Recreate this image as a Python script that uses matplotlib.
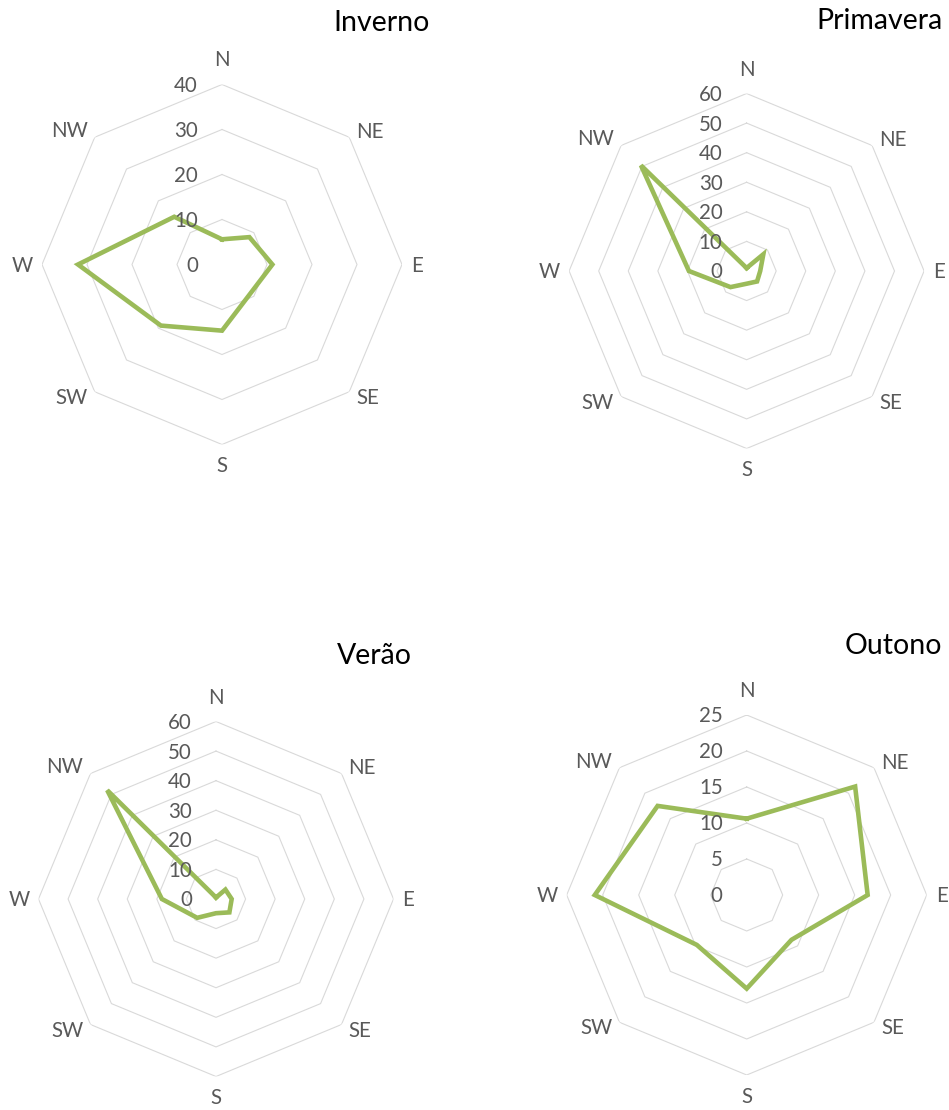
import numpy as np
import matplotlib.pyplot as plt
from matplotlib.transforms import offset_copy

plt.rcParams['font.family'] = ['Lato', 'DejaVu Sans']

directions = ["N", "NE", "E", "SE", "S", "SW", "W", "NW"]

# frequency per wind direction, one list per season
inverno = [5.6, 8.6, 11.2, 9.0, 14.7, 19.2, 32.0, 15.0]
primavera = [1.0, 8.0, 4.6, 5.0, 4.3, 7.7, 19.5, 50.5]
verao = [0.5, 4.5, 5.3, 6.4, 4.8, 9.0, 18.3, 52.0]
outono = [10.6, 21.3, 16.8, 8.8, 13.0, 9.8, 21.1, 17.5]

W, H = 949, 1110
fig = plt.figure(figsize=(W / 100, H / 100), dpi=100)

# title, values, axis max, step, centre (px), radius (px), title right edge/centre (px)
panels = [
    ("Inverno", inverno, 40, 10, (222, 264.5), 180, (430, 23)),
    ("Primavera", primavera, 60, 10, (746.6, 271), 177.5, (943, 21)),
    ("Verão", verao, 60, 10, (216, 899), 177.5, (412, 656)),
    ("Outono", outono, 25, 5, (746.7, 895), 180, (942, 646)),
]

line_color = '#9BBB59'
grid_color = '#D9D9D9'
text_color = '#595959'
label_size = 14.8

# pixel offsets and alignment for the direction labels
label_pos = {
    "N": (0, 18, 'center'),
    "NE": (7, -1, 'left'),
    "E": (9, -7.5, 'left'),
    "SE": (7, -12, 'left'),
    "S": (0, -28, 'center'),
    "SW": (-7, -12, 'right'),
    "W": (-9, -7.5, 'right'),
    "NW": (-7, 0, 'right'),
}

theta = np.deg2rad(np.arange(0, 360, 45))
theta_closed = np.append(theta, theta[0])

for title, values, rmax, step, (cx, cy), rad, (tx, ty) in panels:
    ax = fig.add_axes([(cx - rad) / W, 1 - (cy + rad) / H, 2 * rad / W, 2 * rad / H],
                      projection='polar')
    ax.set_theta_zero_location('N')
    ax.set_theta_direction(-1)
    ax.set_ylim(0, rmax)
    ax.grid(False)
    ax.set_xticks([])
    ax.set_yticks([])
    ax.spines['polar'].set_visible(False)
    ax.patch.set_visible(False)

    rings = np.arange(step, rmax + step / 2, step)
    for r in rings:
        ax.plot(theta_closed, np.full(len(theta_closed), r), color=grid_color, lw=0.8, zorder=1)

    vals = np.append(values, values[0])
    ax.plot(theta_closed, vals, color=line_color, lw=3.3, solid_joinstyle='miter', zorder=2)

    for r in np.append(0, rings):
        tr = offset_copy(ax.transData, fig=fig, x=-24, y=-7.5, units='dots')
        ax.text(0, r, f"{r:g}", transform=tr, ha='right', va='baseline',
                fontsize=label_size, color=text_color, zorder=3)

    for ang, name in zip(theta, directions):
        dx, dy, ha = label_pos[name]
        tr = offset_copy(ax.transData, fig=fig, x=dx, y=dy, units='dots')
        ax.text(ang, rmax, name, transform=tr, ha=ha, va='baseline',
                fontsize=label_size, color=text_color)

    fig.text(tx / W, 1 - ty / H, title, ha='right', va='center', fontsize=20.5, color='black')

fig.savefig('out.png', dpi=100)
